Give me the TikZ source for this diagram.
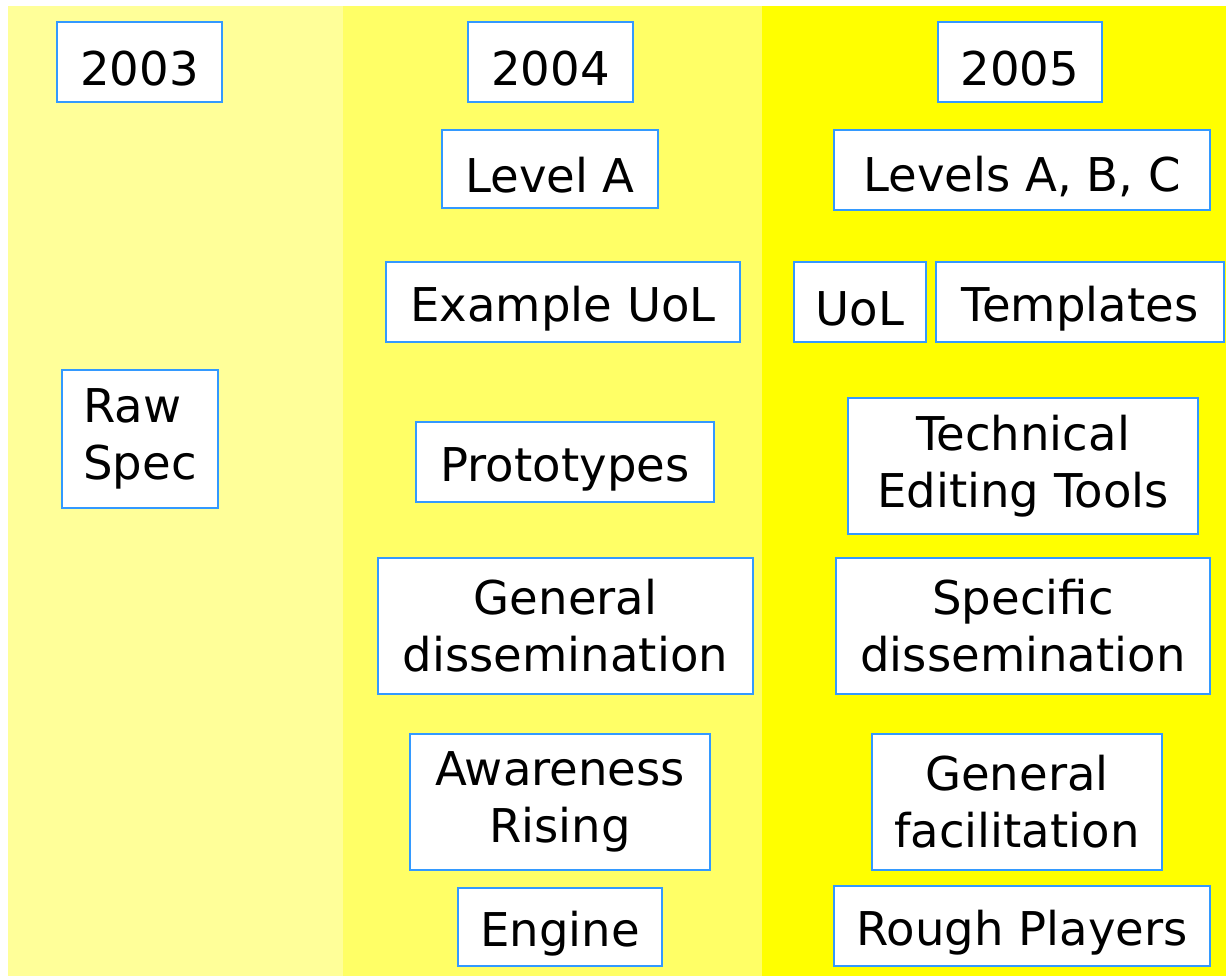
\documentclass[tikz,border=0pt]{standalone}
\usepackage{fontspec}
\setmainfont{DejaVu Sans}
\definecolor{paleyellow}{HTML}{FFFF99}
\definecolor{midyellow}{HTML}{FFFF66}
\definecolor{fullyellow}{HTML}{FFFF00}
\definecolor{boxblue}{HTML}{3399FF}
\tikzset{
  item/.style={draw=boxblue, line width=0.9pt, fill=white, inner sep=0pt,
    align=center, execute at begin node={\rule{0pt}{1.04em}},
    font=\fontsize{26.5}{32.4}\selectfont},
}
\begin{document}
\begin{tikzpicture}[x=0.02cm, y=-0.02cm]
  \useasboundingbox (0,0) rectangle (1226,976);
  \fill[paleyellow] (8,6) rectangle (343,976);
  \fill[midyellow] (343,6) rectangle (762,976);
  \fill[fullyellow] (762,6) rectangle (1226,976);

  \node[item,minimum width=3.3cm,minimum height=1.6cm] (y2003) at (139.5,62) {2003};
  \node[item,minimum width=3.3cm,minimum height=1.6cm] (y2004) at (550.5,62) {2004};
  \node[item,minimum width=3.28cm,minimum height=1.6cm] (y2005) at (1020,62) {2005};

  \node[item,minimum width=3.12cm,minimum height=2.76cm,align=left] (rawspec) at (140,439) {Raw\\Spec};

  \node[item,minimum width=4.32cm,minimum height=1.56cm] (levela) at (550,169) {Level A};
  \node[item,minimum width=7.08cm,minimum height=1.6cm] (exuol) at (563,302) {Example UoL};
  \node[item,minimum width=5.96cm,minimum height=1.6cm] (proto) at (565,462) {Prototypes};
  \node[item,minimum width=7.5cm,minimum height=2.72cm] (gendiss) at (565.5,626) {General\\dissemination};
  \node[item,minimum width=6cm,minimum height=2.72cm] (aware) at (560,802) {Awareness\\Rising};
  \node[item,minimum width=4.08cm,minimum height=1.56cm] (engine) at (560,927) {Engine};

  \node[item,minimum width=7.52cm,minimum height=1.6cm] (levelsabc) at (1022,170) {Levels A, B, C};
  \node[item,minimum width=2.64cm,minimum height=1.6cm] (uol) at (860,302) {UoL};
  \node[item,minimum width=5.76cm,minimum height=1.6cm] (templ) at (1080,302) {Templates};
  \node[item,minimum width=7cm,minimum height=2.72cm] (techtools) at (1023,466) {Technical\\Editing Tools};
  \node[item,minimum width=7.48cm,minimum height=2.72cm] (specdiss) at (1023,626) {Specific\\dissemination};
  \node[item,minimum width=5.8cm,minimum height=2.72cm] (genfac) at (1017,802) {General\\facilitation};
  \node[item,minimum width=7.52cm,minimum height=1.6cm] (rough) at (1022,926) {Rough Players};
\end{tikzpicture}
\end{document}
